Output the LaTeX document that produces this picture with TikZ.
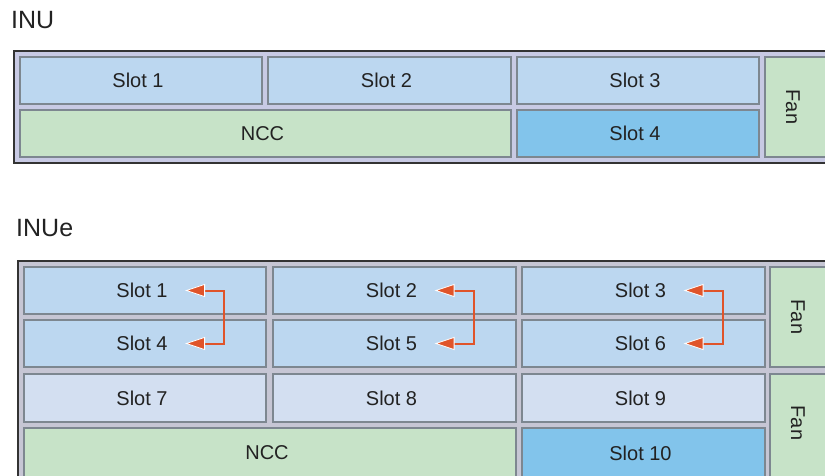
\documentclass[tikz,border=0pt]{standalone}
\usepackage{fontspec}
\setmainfont{Liberation Sans}
\usetikzlibrary{arrows.meta,calc}
\definecolor{chassisA}{RGB}{200,202,228}
\definecolor{chassisB}{RGB}{198,198,212}
\definecolor{slotblue}{RGB}{188,215,240}
\definecolor{slotdark}{RGB}{130,196,235}
\definecolor{slotgreen}{RGB}{199,227,200}
\definecolor{slotpale}{RGB}{211,223,241}
\definecolor{bordergray}{RGB}{125,135,144}
\definecolor{arrowc}{RGB}{224,84,42}
\definecolor{textc}{RGB}{34,34,34}
\tikzset{
  slotbox/.style={draw=bordergray, line width=1.3pt, anchor=north west, inner sep=0pt, outer sep=0pt,
    font=\fontsize{20}{24}\selectfont, text=textc},
  chassis/.style={draw=black!80, line width=1.2pt},
  title/.style={anchor=base west, inner sep=0pt, font=\fontsize{25}{30}\selectfont, text=textc},
  fanlabel/.style={rotate=-90, inner sep=0pt, font=\fontsize{20}{24}\selectfont, text=textc},
  swaparrow/.style={draw=arrowc, line width=2pt,
    {Triangle[length=20pt,width=13pt,fill=arrowc,color=white,line width=0.8pt]}-{Triangle[length=20pt,width=13pt,fill=arrowc,color=white,line width=0.8pt]}}
}
\newcommand\mkslot[7]{\node[slotbox, fill=#6, minimum width={(#4-#2)*1pt}, minimum height={(#5-#3)*1pt}] (#1) at (#2,#3) {\hspace*{-6pt}#7};}
\begin{document}
\begin{tikzpicture}[x=1pt,y=-1pt]
\useasboundingbox (0,0) rectangle (825,476);
\clip (0,0) rectangle (825,476);
% ---------- INU ----------
\node[title] (tinu) at (11,29) {INU};
\draw[chassis, fill=chassisA] (14,51) rectangle (840,163);
\mkslot{a1}{20}{57}{262}{104}{slotblue}{Slot 1}
\mkslot{a2}{268}{57}{511}{104}{slotblue}{Slot 2}
\mkslot{a3}{517}{57}{759}{104}{slotblue}{Slot 3}
\mkslot{ancc}{20}{110}{511}{157}{slotgreen}{NCC}
\mkslot{a4}{517}{110}{759}{157}{slotdark}{Slot 4}
\mkslot{afan}{765}{57}{834}{157}{slotgreen}{}
\node[fanlabel] (afant) at (793,107) {Fan};
% ---------- INUe ----------
\node[title] (tinue) at (16,236) {INUe};
\draw[chassis, fill=chassisB] (18,261) rectangle (840,490);
\mkslot{b1}{24}{267}{266}{314}{slotblue}{Slot 1}
\mkslot{b2}{273}{267}{516}{314}{slotblue}{Slot 2}
\mkslot{b3}{522}{267}{765}{314}{slotblue}{Slot 3}
\mkslot{b4}{24}{320}{266}{367}{slotblue}{Slot 4}
\mkslot{b5}{273}{320}{516}{367}{slotblue}{Slot 5}
\mkslot{b6}{522}{320}{765}{367}{slotblue}{Slot 6}
\mkslot{b7}{24}{374}{266}{422}{slotpale}{Slot 7}
\mkslot{b8}{273}{374}{516}{422}{slotpale}{Slot 8}
\mkslot{b9}{522}{374}{765}{422}{slotpale}{Slot 9}
\mkslot{bncc}{24}{428}{516}{484}{slotgreen}{\raisebox{6pt}{NCC}}
\mkslot{b10}{522}{428}{765}{484}{slotdark}{\raisebox{6pt}{Slot 10}}
\mkslot{bfan1}{770}{267}{834}{367}{slotgreen}{}
\mkslot{bfan2}{770}{374}{834}{484}{slotgreen}{}
\node[fanlabel] (bfan1t) at (798,317) {Fan};
\node[fanlabel] (bfan2t) at (798,423) {Fan};
% ---------- swap arrows ----------
\foreach \u/\l in {b1/b4, b2/b5, b3/b6}{
  \coordinate (\u tip) at ($(\u.center)+(40,0)$);
  \coordinate (\l tip) at ($(\l.center)+(40,0)$);
  \coordinate (\u bend) at ($(\u.center)+(79,0)$);
  \coordinate (\l bend) at ($(\l.center)+(79,0)$);
  \draw[swaparrow] (\u tip) -- (\u bend) -- (\l bend) -- (\l tip);
}
\end{tikzpicture}
\end{document}
